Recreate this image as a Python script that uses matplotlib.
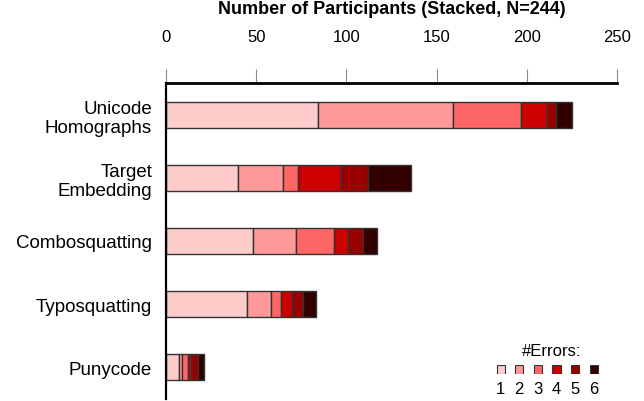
import matplotlib
matplotlib.use("Agg")
from matplotlib import pyplot as plt
import numpy as np

plt.rcParams['font.family'] = ['Liberation Sans', 'DejaVu Sans']

categories = ["Unicode\nHomographs", "Target\nEmbedding", "Combosquatting",
              "Typosquatting", "Punycode"]
error_labels = ["1", "2", "3", "4", "5", "6"]
colors = ["#FFCCCC", "#FF9999", "#FF6666", "#CC0000", "#990000", "#330000"]

# participants per number of errors (1..6), one list per attack type
unicode_homographs = [84, 75, 38, 14, 5, 9]
target_embedding = [40, 25, 8, 24, 15, 24]
combosquatting = [48, 24, 21, 8, 8, 8]
typosquatting = [45, 13, 6, 6, 6, 7]
punycode = [7, 2, 3, 2, 4, 3]

counts = np.array([unicode_homographs, target_embedding, combosquatting,
                   typosquatting, punycode])

W, H = 644, 402
fig = plt.figure(figsize=(W / 100, H / 100), dpi=100)
ax = fig.add_axes([166 / W, 1 - 400 / H, (617 - 166) / W, (400 - 84) / H])

y = np.arange(len(categories))
left = np.zeros(len(categories))
for i, col in enumerate(colors):
    ax.barh(y, counts[:, i], left=left, height=0.41, color=col,
            edgecolor="#333333", linewidth=1.0)
    left += counts[:, i]

ax.set_xlim(0, 250)
ax.set_ylim(4.5, -0.5)
ax.set_xticks([0, 50, 100, 150, 200, 250])
ax.xaxis.tick_top()
ax.tick_params(axis="x", direction="out", length=10, width=0.8, color="#888888",
               pad=18, labelsize=12)
ax.set_yticks(y)
ax.set_yticklabels(categories, fontsize=13.5, multialignment="right")
ax.tick_params(axis="y", length=0, pad=10)

ax.spines["right"].set_visible(False)
ax.spines["bottom"].set_visible(False)
ax.spines["left"].set_linewidth(1.6)
ax.spines["top"].set_linewidth(2.0)

fig.text(0.5 * (166 + 617) / W, 1 - 10 / H, "Number of Participants (Stacked, N=244)",
         ha="center", va="center", fontsize=13, fontweight="bold")

# legend drawn as a tiny bar axes
lx0, lx1 = 491.4, 603
lax = fig.add_axes([lx0 / W, 1 - 375 / H, (lx1 - lx0) / W, 9 / H])
lax.bar(np.arange(6), [1] * 6, width=0.45, color=colors,
        edgecolor="#333333", linewidth=0.8)
lax.set_xlim(-0.5, 5.5)
lax.set_ylim(0, 1)
lax.set_xticks(np.arange(6))
lax.set_xticklabels(error_labels, fontsize=12)
lax.tick_params(length=0, pad=5)
lax.set_yticks([])
for s in lax.spines.values():
    s.set_visible(False)
lax.text((552 - lx0) / (lx1 - lx0), 1 + 15 / 9, "#Errors:", transform=lax.transAxes,
         ha="center", va="center", fontsize=12)

fig.savefig("out.png", dpi=100)
